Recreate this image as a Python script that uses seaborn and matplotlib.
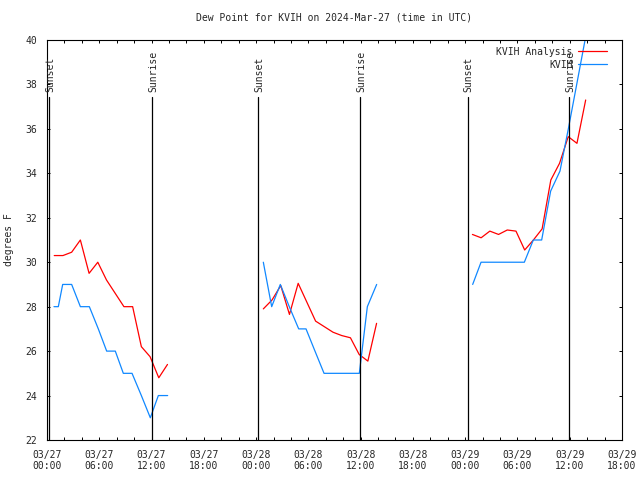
import numpy as np
import pandas as pd
import matplotlib
matplotlib.use("Agg")
import matplotlib.pyplot as plt
from matplotlib.lines import Line2D
from matplotlib.ticker import MultipleLocator
import seaborn as sns

# hours since 03/27 00:00 UTC
analysis_day1_t = [0.83, 1.83, 2.83, 3.83, 4.83, 5.83, 6.83, 7.83, 8.83, 9.83, 10.83, 11.83, 12.83, 13.83]
analysis_day1_v = [30.3, 30.3, 30.45, 31.0, 29.5, 30.0, 29.2, 28.6, 28.0, 28.0, 26.2, 25.75, 24.8, 25.4]
analysis_day2_t = [24.83, 25.83, 26.83, 27.83, 28.83, 29.83, 30.83, 31.83, 32.83, 33.83, 34.83, 35.83, 36.83, 37.83]
analysis_day2_v = [27.9, 28.3, 28.95, 27.65, 29.05, 28.2, 27.35, 27.1, 26.85, 26.7, 26.6, 25.85, 25.55, 27.25]
analysis_day3_t = [48.83, 49.83, 50.83, 51.83, 52.83, 53.83, 54.83, 55.83, 56.83, 57.83, 58.83, 59.83, 60.83, 61.83]
analysis_day3_v = [31.25, 31.1, 31.4, 31.25, 31.45, 31.4, 30.55, 31.0, 31.5, 33.7, 34.45, 35.65, 35.35, 37.3]

obs_day1_t = [0.8, 1.3, 1.8, 2.83, 3.83, 4.86, 5.89, 6.85, 7.84, 8.76, 9.76, 10.83, 11.86, 12.78, 13.85]
obs_day1_v = [28.0, 28.0, 29.0, 29.0, 28.0, 28.0, 27.0, 26.0, 26.0, 25.0, 25.0, 24.0, 23.0, 24.0, 24.0]
obs_day2_t = [24.83, 25.79, 26.78, 27.81, 28.89, 29.73, 30.76, 31.8, 32.8, 33.8, 34.8, 35.85, 36.77, 37.84]
obs_day2_v = [30.0, 28.0, 29.0, 28.0, 27.0, 27.0, 26.0, 25.0, 25.0, 25.0, 25.0, 25.0, 28.0, 29.0]
obs_day3_t = [48.86, 49.82, 50.85, 51.8, 52.77, 53.72, 54.79, 55.82, 56.78, 57.81, 58.88, 59.84, 60.8, 61.76]
obs_day3_v = [29.0, 30.0, 30.0, 30.0, 30.0, 30.0, 30.0, 31.0, 31.0, 33.2, 34.1, 36.0, 38.0, 40.0]

sunset_hours = [0.22, 24.25, 48.27]
sunrise_hours = [12.05, 35.97, 59.93]

tick_hours = [0, 6, 12, 18, 24, 30, 36, 42, 48, 54, 60, 66]
tick_labels = ["03/27\n00:00", "03/27\n06:00", "03/27\n12:00", "03/27\n18:00",
               "03/28\n00:00", "03/28\n06:00", "03/28\n12:00", "03/28\n18:00",
               "03/29\n00:00", "03/29\n06:00", "03/29\n12:00", "03/29\n18:00"]
y_ticks = [22, 24, 26, 28, 30, 32, 34, 36, 38, 40]

series_names = ["KVIH Analysis", "KVIH"]
colors = {"KVIH Analysis": "#ff0000", "KVIH": "#1088ff"}

# build one long table, a segment id keeps the days apart
rows = []
segs = [
    ("KVIH Analysis", 1, analysis_day1_t, analysis_day1_v),
    ("KVIH Analysis", 2, analysis_day2_t, analysis_day2_v),
    ("KVIH Analysis", 3, analysis_day3_t, analysis_day3_v),
    ("KVIH", 4, obs_day1_t, obs_day1_v),
    ("KVIH", 5, obs_day2_t, obs_day2_v),
    ("KVIH", 6, obs_day3_t, obs_day3_v),
]
for name, seg, ts, vs in segs:
    for t, v in zip(ts, vs):
        rows.append({"hour": t, "dewpoint": v, "series": name, "seg": seg})
df = pd.DataFrame(rows)

sns.set_style("ticks")
plt.rcParams['font.family'] = ['DejaVu Sans Mono']
plt.rcParams['font.size'] = 7

fig = plt.figure(figsize=(6.4, 4.8), dpi=100)
ax = fig.add_axes([47 / 640, 40 / 480, 575 / 640, 400 / 480])

sns.lineplot(data=df, x="hour", y="dewpoint", hue="series", units="seg",
             estimator=None, hue_order=series_names, palette=colors,
             linewidth=0.9, legend=False, sort=False, ax=ax)

# sunrise / sunset markers
for h in sunset_hours:
    ax.plot([h, h], [22, 37.45], color="black", lw=0.9)
    ax.text(h + 0.15, 37.67, "Sunset", rotation=90, ha="center", va="bottom", fontsize=7)
for h in sunrise_hours:
    ax.plot([h, h], [22, 37.45], color="black", lw=0.9)
    ax.text(h + 0.15, 37.67, "Sunrise", rotation=90, ha="center", va="bottom", fontsize=7)

ax.set_xlim(0, 66)
ax.set_ylim(22, 40)
ax.set_xticks(tick_hours)
ax.set_xticklabels(tick_labels)
ax.xaxis.set_minor_locator(MultipleLocator(2))
ax.set_yticks(y_ticks)
ax.tick_params(which="both", direction="in", top=True, right=True,
               length=2.4, width=0.7, labelsize=7, color="black")
ax.tick_params(axis="x", pad=7)
ax.tick_params(axis="y", pad=7)
for sp in ax.spines.values():
    sp.set_visible(True)
    sp.set_linewidth(0.8)
    sp.set_color("black")

ax.set_xlabel("")
ax.set_ylabel("degrees F", fontsize=7, labelpad=8)
ax.set_title("Dew Point for KVIH on 2024-Mar-27 (time in UTC)", fontsize=7, pad=14)

handles = [Line2D([], [], color=colors[n], lw=0.9) for n in series_names]
ax.legend(handles, series_names, loc="upper right", frameon=False, markerfirst=False,
          handlelength=2.9, handletextpad=0.6, labelspacing=0.3, fontsize=7,
          borderaxespad=0.3, bbox_to_anchor=(0.985, 1.0))

fig.savefig("out.png", dpi=100)
